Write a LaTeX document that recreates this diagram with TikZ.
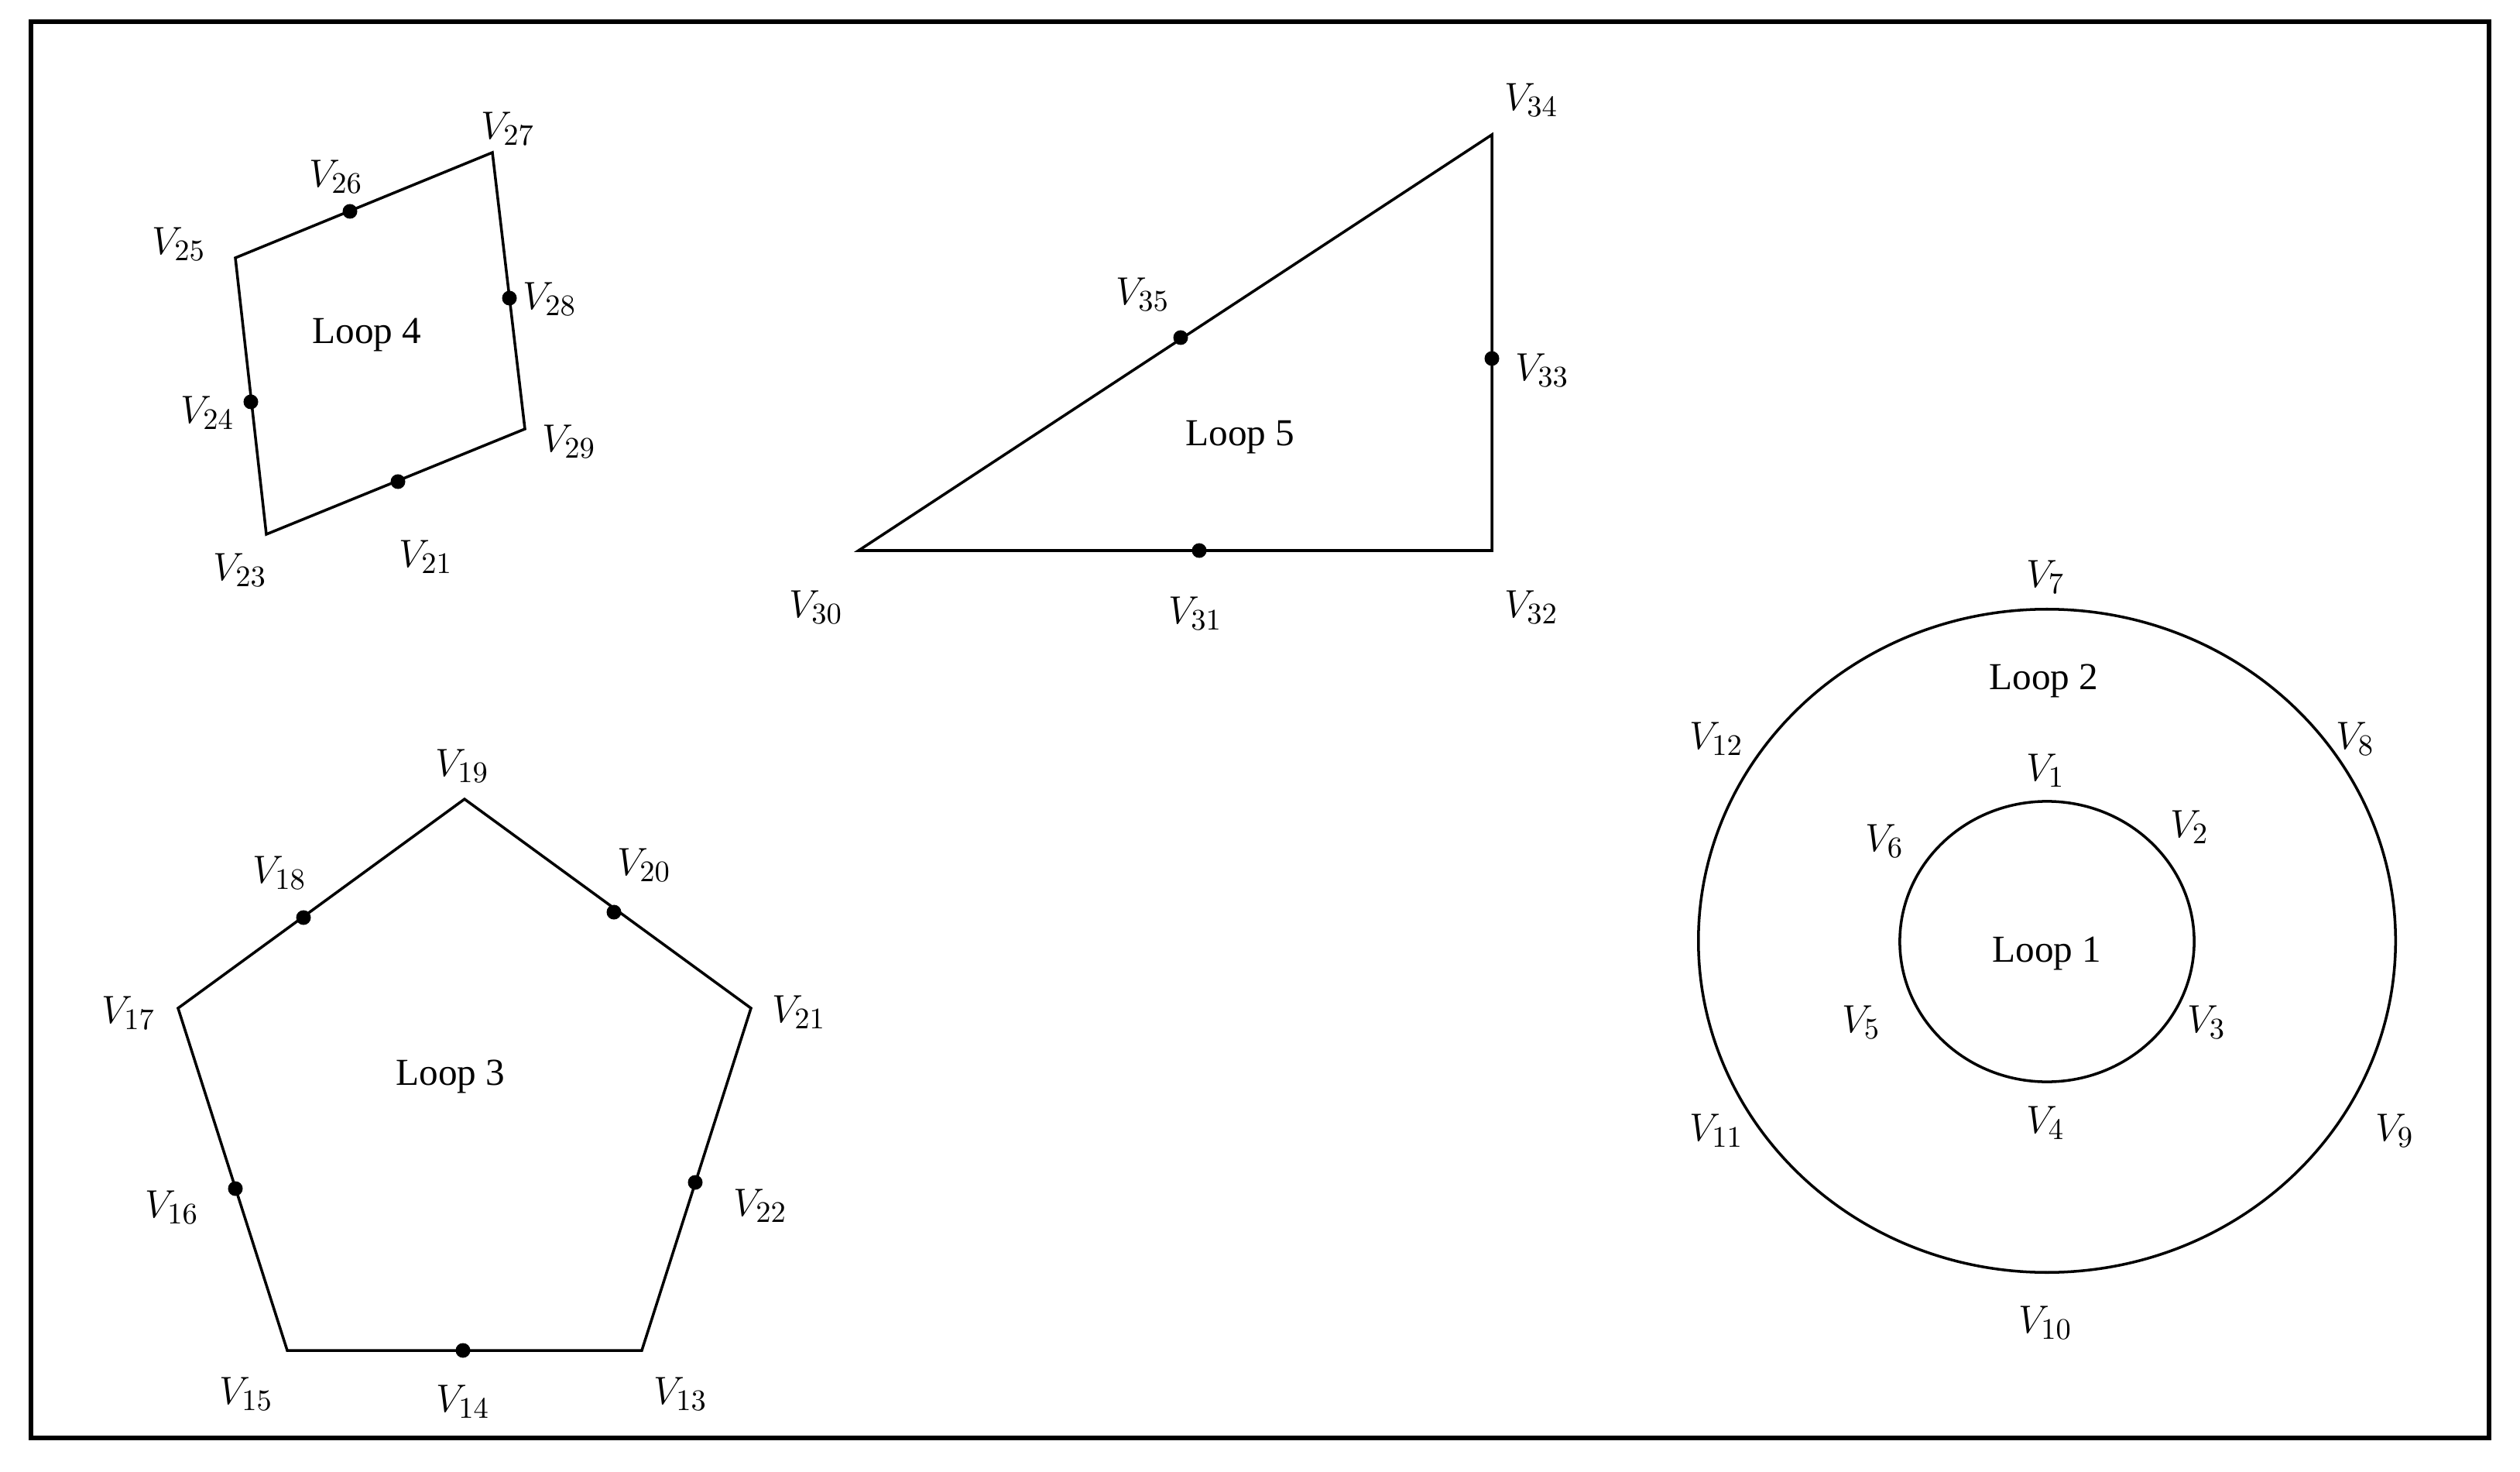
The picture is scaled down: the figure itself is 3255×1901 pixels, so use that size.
\documentclass[tikz,border=0pt]{standalone}
\usepackage{fontspec}
\setmainfont{Liberation Serif}
\usetikzlibrary{shapes.geometric}
\begin{document}
\begin{tikzpicture}[x=0.01cm,y=-0.01cm,
  edge/.style={line width=1pt, line join=miter},
  vdot/.style={circle, fill=black, inner sep=0pt, minimum size=0.19cm},
  vlab/.style={font=\fontsize{15.5}{17}\selectfont, inner sep=0pt},
  looplab/.style={font=\fontsize{14}{16}\selectfont, inner sep=0pt},
  ring/.style={draw, ellipse, line width=1pt, inner sep=0pt}]
\useasboundingbox (0,0) rectangle (3255,1901);
\draw[line width=1.7pt] (40,28) rectangle (3215,1857);

% ---------- Loop 4 ----------
\coordinate (c25) at (304,333);
\coordinate (c27) at (636,197);
\coordinate (c29) at (678,554);
\coordinate (c23) at (344,690);
\draw[edge] (c25) -- (c27) -- (c29) -- (c23) -- cycle;
\node[vdot] (d26) at (452,273) {};
\node[vdot] (d28) at (658,385) {};
\node[vdot] (d24) at (324,519) {};
\node[vdot] (d21a) at (514,622) {};
\node[vlab] (l27) at (656,166) {$V_{27}$};
\node[vlab] (l26) at (434,228) {$V_{26}$};
\node[vlab] (l25) at (231,315) {$V_{25}$};
\node[vlab] (l28) at (710,386) {$V_{28}$};
\node[vlab] (l24) at (268,533) {$V_{24}$};
\node[vlab] (l29) at (735,570) {$V_{29}$};
\node[vlab] (l23) at (310,736) {$V_{23}$};
\node[vlab] (l21a) at (550,719) {$V_{21}$};
\node[looplab] (loop4) at (474,433) {Loop 4};

% ---------- Loop 5 ----------
\coordinate (c30) at (1109,711);
\coordinate (c34) at (1927,174);
\coordinate (c32) at (1927,711);
\draw[edge] (c30) -- (c34) -- (c32) -- cycle;
\node[vdot] (d35) at (1525,436) {};
\node[vdot] (d33) at (1927,463) {};
\node[vdot] (d31) at (1549,711) {};
\node[vlab] (l34) at (1978,129) {$V_{34}$};
\node[vlab] (l35) at (1476,380) {$V_{35}$};
\node[vlab] (l33) at (1992,478) {$V_{33}$};
\node[vlab] (l30) at (1054,784) {$V_{30}$};
\node[vlab] (l31) at (1544,792) {$V_{31}$};
\node[vlab] (l32) at (1978,784) {$V_{32}$};
\node[looplab] (loop5) at (1602,565) {Loop 5};

% ---------- Loop 3 ----------
\coordinate (c19) at (600,1032);
\coordinate (c17) at (230,1302);
\coordinate (c21) at (970,1302);
\coordinate (c15) at (371,1744);
\coordinate (c13) at (829,1744);
\draw[edge] (c19) -- (c21) -- (c13) -- (c15) -- (c17) -- cycle;
\node[vdot] (d18) at (392,1185) {};
\node[vdot] (d20) at (793,1178) {};
\node[vdot] (d16) at (304,1535) {};
\node[vdot] (d22) at (898,1527) {};
\node[vdot] (d14) at (598,1744) {};
\node[vlab] (l19) at (597,989) {$V_{19}$};
\node[vlab] (l18) at (361,1127) {$V_{18}$};
\node[vlab] (l20) at (832,1117) {$V_{20}$};
\node[vlab] (l17) at (166,1308) {$V_{17}$};
\node[vlab] (l21) at (1032,1307) {$V_{21}$};
\node[vlab] (l16) at (222,1559) {$V_{16}$};
\node[vlab] (l22) at (982,1557) {$V_{22}$};
\node[vlab] (l15) at (318,1800) {$V_{15}$};
\node[vlab] (l14) at (598,1810) {$V_{14}$};
\node[vlab] (l13) at (879,1800) {$V_{13}$};
\node[looplab] (loop3) at (582,1390) {Loop 3};

% ---------- Loops 1 and 2 ----------
\node[ring, minimum width=9cm, minimum height=8.56cm] (ring2) at (2644,1215) {};
\node[ring, minimum width=3.8cm, minimum height=3.62cm] (ring1) at (2644,1216) {};
\node[vlab] (l7) at (2642,745) {$V_{7}$};
\node[looplab] (loop2) at (2640,879) {Loop 2};
\node[vlab] (l12) at (2217,954) {$V_{12}$};
\node[vlab] (l8) at (3042,954) {$V_{8}$};
\node[vlab] (l1) at (2642,995) {$V_{1}$};
\node[vlab] (l6) at (2434,1086) {$V_{6}$};
\node[vlab] (l2) at (2828,1068) {$V_{2}$};
\node[looplab] (loop1) at (2644,1231) {Loop 1};
\node[vlab] (l5) at (2404,1320) {$V_{5}$};
\node[vlab] (l3) at (2850,1320) {$V_{3}$};
\node[vlab] (l4) at (2642,1450) {$V_{4}$};
\node[vlab] (l11) at (2217,1460) {$V_{11}$};
\node[vlab] (l9) at (3093,1460) {$V_{9}$};
\node[vlab] (l10) at (2642,1708) {$V_{10}$};
\end{tikzpicture}
\end{document}
